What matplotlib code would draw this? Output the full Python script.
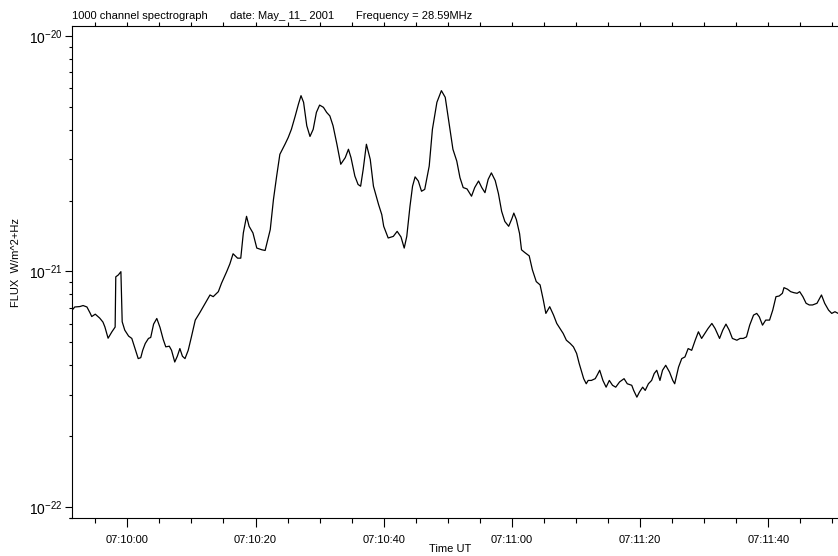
from datetime import datetime, timedelta
import matplotlib
matplotlib.use('Agg')
from matplotlib import pyplot as plt
import matplotlib.dates as mdates
from matplotlib.ticker import FixedLocator, FuncFormatter
import numpy as np

plt.rcParams['font.family'] = ['Liberation Sans', 'DejaVu Sans']
plt.rcParams['mathtext.default'] = 'regular'

# time in seconds after 07:10:00 UT
t_sec = [-8.6, -8.2, -7.4, -6.9, -6.3, -5.8, -5.55, -5.0, -4.3, -3.8,
         -3.5, -3.0, -2.4, -1.9, -1.8, -1.4, -1.0, -0.8, -0.4, 0.2,
         0.7, 1.2, 1.7, 2.1, 2.4, 2.8, 3.3, 3.65, 4.1, 4.6,
         5.1, 5.6, 6.0, 6.55, 6.9, 7.4, 7.8, 8.2, 8.6, 9.0,
         9.5, 10.0, 10.6, 11.3, 12.1, 12.9, 13.4, 14.2, 14.7, 15.5,
         16.0, 16.5, 17.2, 17.7, 18.1, 18.6, 19.0, 19.6, 20.2, 21.0,
         21.5, 22.3, 22.8, 23.3, 23.8, 24.6, 25.1, 25.6, 26.2, 26.7,
         27.1, 27.5, 28.0, 28.5, 29.0, 29.5, 30.0, 30.6, 31.1, 31.6,
         32.1, 32.7, 33.3, 34.0, 34.5, 34.9, 35.5, 36.0, 36.4, 36.8,
         37.3, 37.9, 38.4, 39.2, 39.7, 40.0, 40.7, 41.5, 42.1, 42.7,
         43.2, 43.6, 44.1, 44.5, 44.9, 45.4, 45.9, 46.4, 47.1, 47.6,
         48.3, 49.0, 49.6, 50.1, 50.8, 51.4, 51.9, 52.4, 53.0, 53.7,
         54.2, 54.8, 55.3, 55.8, 56.3, 56.8, 57.4, 57.9, 58.4, 58.9,
         59.5, 60.0, 60.3, 60.7, 61.2, 61.5, 62.0, 62.7, 63.2, 63.8,
         64.4, 64.9, 65.3, 65.9, 66.5, 67.0, 67.5, 68.0, 68.5, 69.1,
         69.6, 70.1, 70.5, 70.9, 71.2, 71.6, 71.9, 72.4, 73.0, 73.3,
         73.7, 74.2, 74.7, 75.2, 75.7, 76.2, 76.8, 77.5, 78.0, 78.7,
         79.0, 79.5, 79.9, 80.4, 80.8, 81.3, 81.8, 82.2, 82.6, 83.1,
         83.5, 84.0, 84.6, 85.1, 85.4, 86.0, 86.5, 87.0, 87.5, 88.05,
         88.6, 89.1, 89.6, 90.1, 90.6, 91.2, 91.7, 92.4, 92.9, 93.4,
         93.9, 94.4, 95.1, 95.6, 96.1, 96.6, 97.1, 97.7, 98.2, 98.6,
         99.1, 99.6, 100.2, 100.7, 101.2, 101.7, 102.2, 102.45, 103.0, 103.5,
         104.0, 104.5, 104.9, 105.4, 105.9, 106.4, 106.9, 107.6, 108.3, 108.8,
         109.4, 109.9, 110.4, 110.9, 111.5]

# flux in units of 1e-22 W/m^2/Hz
flux_e22 = [6.86, 7.07, 7.10, 7.17, 7.07, 6.66, 6.44, 6.59, 6.34, 6.10,
            5.82, 5.21, 5.55, 5.81, 9.49, 9.67, 9.98, 6.12, 5.64, 5.32,
            5.20, 4.71, 4.27, 4.31, 4.63, 4.95, 5.20, 5.25, 5.98, 6.32,
            5.79, 5.15, 4.79, 4.82, 4.63, 4.13, 4.37, 4.71, 4.37, 4.27,
            4.63, 5.28, 6.22, 6.68, 7.28, 7.95, 7.82, 8.21, 8.92, 9.98,
            10.77, 11.89, 11.39, 11.39, 14.57, 17.14, 15.55, 14.57, 12.57, 12.36,
            12.28, 15.05, 20.20, 25.39, 31.41, 34.65, 37.0, 40.1, 45.7, 51.3,
            55.7, 52.2, 41.5, 37.4, 40.1, 47.3, 50.8, 49.7, 47.3, 45.7,
            41.5, 34.65, 28.5, 30.4, 33.0, 30.4, 25.4, 23.4, 23.0, 27.1,
            34.65, 29.9, 23.0, 19.23, 17.43, 15.55, 13.87, 14.09, 14.80, 14.01,
            12.57, 14.09, 18.91, 23.0, 25.2, 24.2, 21.9, 22.3, 28.0, 40.1,
            52.2, 58.5, 54.8, 44.3, 33.0, 29.4, 25.0, 22.7, 22.4, 20.86,
            22.7, 24.2, 22.7, 21.6, 24.6, 26.2, 24.3, 21.4, 18.0, 16.3,
            15.55, 16.76, 17.69, 16.6, 14.47, 12.36, 12.04, 11.65, 10.16, 9.06,
            8.77, 7.57, 6.64, 7.09, 6.53, 6.02, 5.73, 5.46, 5.11, 4.95,
            4.79, 4.49, 4.07, 3.74, 3.51, 3.34, 3.45, 3.45, 3.51, 3.63,
            3.81, 3.45, 3.23, 3.45, 3.29, 3.23, 3.40, 3.51, 3.34, 3.29,
            3.13, 2.93, 3.08, 3.23, 3.13, 3.34, 3.45, 3.69, 3.81, 3.45,
            3.81, 4.00, 3.74, 3.45, 3.34, 3.93, 4.27, 4.34, 4.71, 4.63,
            5.11, 5.55, 5.20, 5.46, 5.73, 6.02, 5.73, 5.20, 5.64, 5.98,
            5.64, 5.20, 5.11, 5.20, 5.20, 5.28, 5.92, 6.53, 6.64, 6.42,
            5.92, 6.22, 6.22, 6.86, 7.82, 7.87, 8.08, 8.54, 8.41, 8.21,
            8.13, 8.08, 8.21, 7.82, 7.33, 7.21, 7.21, 7.33, 7.95, 7.33,
            6.86, 6.64, 6.75, 6.64, 6.70]

y_major = [1e-22, 1e-21, 1e-20]
y_minor = [m * 10.0**e for e in (-23, -22, -21) for m in range(2, 10)] + [9e-23]

t0 = datetime(2001, 5, 11, 7, 10, 0)
times = [t0 + timedelta(seconds=s) for s in t_sec]
flux = np.array(flux_e22) * 1e-22

fig = plt.figure(figsize=(8.38, 5.56), dpi=100)
# axes runs off the right edge of the picture, as in the original
ax = fig.add_axes([72/838, 38/556, 773/838, 492/556])
ax.plot(times, flux, color='black', lw=0.9)

ax.set_yscale('log')
ax.set_ylim(9e-23, 1.1e-20)
ax.set_xlim(t0 + timedelta(seconds=-8.63), t0 + timedelta(seconds=111.97))

ax.yaxis.set_major_locator(FixedLocator(y_major))
ax.yaxis.set_minor_locator(FixedLocator([v for v in y_minor if 9e-23 <= v <= 1.1e-20]))
ax.yaxis.set_major_formatter(FuncFormatter(lambda v, p: r'$10^{%d}$' % round(np.log10(v))))

ax.xaxis.set_major_locator(mdates.SecondLocator(bysecond=[0, 20, 40]))
ax.xaxis.set_minor_locator(mdates.SecondLocator(bysecond=range(0, 60, 5)))
ax.xaxis.set_major_formatter(mdates.DateFormatter('%H:%M:%S'))

ax.tick_params(axis='x', which='major', direction='out', length=6.5, width=0.8,
               labelsize=8, pad=6)
ax.tick_params(axis='x', which='minor', direction='out', length=3.6, width=0.8)
ax.tick_params(axis='y', which='major', direction='out', length=5, width=0.8,
               labelsize=10, pad=2)
ax.tick_params(axis='y', which='minor', direction='out', length=2.2, width=0.8)

for s in ax.spines.values():
    s.set_linewidth(0.8)
ax.spines['right'].set_visible(False)

# short ticks on the top axis
ax2 = ax.twiny()
ax2.set_xlim(ax.get_xlim())
ax2.xaxis.set_major_locator(mdates.SecondLocator(interval=5))
ax2.tick_params(axis='x', direction='out', length=3.2, width=0.8, labeltop=False)
for s in ax2.spines.values():
    s.set_visible(False)

fig.text(72/838, 1 - 19/556, '1000 channel spectrograph', fontsize=8, va='baseline')
fig.text(230/838, 1 - 19/556, 'date: May_ 11_ 2001', fontsize=8, va='baseline')
fig.text(356/838, 1 - 19/556, 'Frequency = 28.59MHz', fontsize=8, va='baseline')

fig.text(16/838, 1 - 263/556, 'FLUX  W/m^2+Hz', rotation=90, fontsize=8,
         ha='center', va='center')
fig.text(450/838, 1 - 549/556, 'Time UT', fontsize=8, ha='center', va='center')

fig.savefig('out.png', dpi=100)
